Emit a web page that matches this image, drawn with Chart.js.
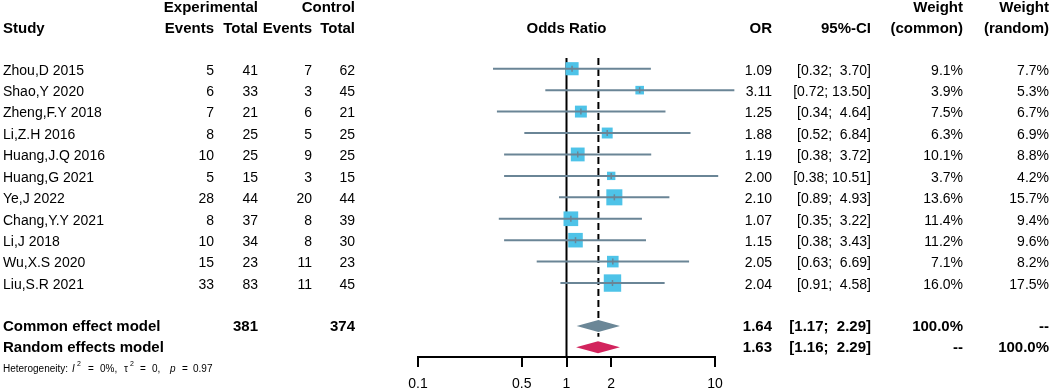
<!DOCTYPE html>
<html><head><meta charset="utf-8">
<script src="https://cdn.jsdelivr.net/npm/chart.js@4.4.1/dist/chart.umd.min.js"></script>
<style>html,body{margin:0;padding:0;background:#fff;}canvas{display:block;}</style>
</head><body>
<canvas id="c" width="1052" height="391"></canvas>
<script>
// ---- data ----
const studies = ["Zhou,D 2015","Shao,Y 2020","Zheng,F.Y 2018","Li,Z.H 2016","Huang,J.Q 2016","Huang,G 2021","Ye,J 2022","Chang,Y.Y 2021","Li,J 2018","Wu,X.S 2020","Liu,S.R 2021"];
const expEvents  = [5, 6, 7, 8, 10, 5, 28, 8, 10, 15, 33];
const expTotal   = [41, 33, 21, 25, 25, 15, 44, 37, 34, 23, 83];
const ctrlEvents = [7, 3, 6, 5, 9, 3, 20, 8, 8, 11, 11];
const ctrlTotal  = [62, 45, 21, 25, 25, 15, 44, 39, 30, 23, 45];
const oddsRatio  = [1.09, 3.11, 1.25, 1.88, 1.19, 2.00, 2.10, 1.07, 1.15, 2.05, 2.04];
const ciLower    = [0.32, 0.72, 0.34, 0.52, 0.38, 0.38, 0.89, 0.35, 0.38, 0.63, 0.91];
const ciUpper    = [3.70, 13.50, 4.64, 6.84, 3.72, 10.51, 4.93, 3.22, 3.43, 6.69, 4.58];
const weightCommon = [9.1, 3.9, 7.5, 6.3, 10.1, 3.7, 13.6, 11.4, 11.2, 7.1, 16.0];
const weightRandom = [7.7, 5.3, 6.7, 6.9, 8.8, 4.2, 15.7, 9.4, 9.6, 8.2, 17.5];
const commonModel = [1.64, 1.17, 2.29];   // OR, lower, upper
const randomModel = [1.63, 1.16, 2.29];
const pooledTotals = [381, 374];
const xTicks = [0.1, 0.5, 1, 2, 10];
const heterogeneity = ["0%", "0", "0.97"]; // I^2, tau^2, p

// ---- styles ----
const FONT = '"Liberation Sans", Arial, Helvetica, sans-serif';
const colSquare = '#4ec3e8';
const colCI = '#6a8596';
const colCommon = '#6b8797';
const colRandom = '#d2245d';
const ROW_COMMON = 12, ROW_RANDOM = 13, ROW_HET = 14;

const fmt2 = v => v.toFixed(2);
const ciText = (lo, hi) => {
  let h = fmt2(hi); if (h.length < 5) h = ' ' + h;
  return '[' + fmt2(lo) + '; ' + h + ']';
};

const datasets = [];
// reference lines
datasets.push({data:[{x:1,y:-0.5},{x:1,y:13.45}], showLine:true, borderColor:'#000', borderWidth:2, pointRadius:0, clip:false, order:10});
datasets.push({data:[{x:commonModel[0],y:-0.5},{x:commonModel[0],y:12.5}], showLine:true, borderColor:'#000', borderWidth:2, borderDash:[7,4], pointRadius:0, clip:false, order:9});
// squares
datasets.push({
  data: oddsRatio.map((v,i)=>({x:v,y:i})),
  pointStyle:'rect',
  pointRadius: weightCommon.map(w => 4.35*Math.sqrt(w)/Math.SQRT2),
  pointBackgroundColor: colSquare, pointBorderWidth:0, backgroundColor: colSquare, borderWidth:0,
  clip:false, order:5
});
// CI lines
studies.forEach((s,i)=>{
  datasets.push({data:[{x:ciLower[i],y:i},{x:ciUpper[i],y:i}], showLine:true, borderColor:colCI, borderWidth:2, pointRadius:0, clip:false, order:2});
});
// estimate tick marks
datasets.push({
  data: oddsRatio.map((v,i)=>({x:v,y:i})),
  pointStyle:'line', rotation:90, pointRadius:3, pointBorderColor:colCI, pointBorderWidth:1.5,
  borderColor:colCI, clip:false, order:1
});

const diamondPlugin = {
  id:'diamonds',
  afterDatasetsDraw(chart){
    const {ctx, scales:{x,y}} = chart;
    const draw = (m, row, col) => {
      const yc = y.getPixelForValue(row), h = 6;
      ctx.save();
      ctx.beginPath();
      ctx.moveTo(x.getPixelForValue(m[1]), yc);
      ctx.lineTo(x.getPixelForValue(m[0]), yc - h);
      ctx.lineTo(x.getPixelForValue(m[2]), yc);
      ctx.lineTo(x.getPixelForValue(m[0]), yc + h);
      ctx.closePath();
      ctx.fillStyle = col; ctx.fill();
      ctx.restore();
    };
    draw(commonModel, ROW_COMMON, colCommon);
    draw(randomModel, ROW_RANDOM, colRandom);
  }
};

const textPlugin = {
  id:'table',
  afterDraw(chart){
    const {ctx, scales:{x,y}} = chart;
    const T = (s, px, py, align, bold) => {
      ctx.font = (bold ? 'bold 15px ' : '14px ') + FONT;
      ctx.textAlign = align; ctx.textBaseline = 'middle'; ctx.fillStyle = '#000';
      ctx.fillText(s, px, py);
    };
    const C = {study:3, ee:214, et:258, ce:312, ct:355, or:772, ci:871, wc:963, wr:1049};
    // headers
    T('Experimental', C.et, 8, 'right', true);
    T('Control', C.ct, 8, 'right', true);
    T('Study', C.study, 29, 'left', true);
    T('Events', C.ee, 29, 'right', true);
    T('Total', C.et, 29, 'right', true);
    T('Events', C.ce, 29, 'right', true);
    T('Total', C.ct, 29, 'right', true);
    T('Odds Ratio', x.getPixelForValue(1), 29, 'center', true);
    T('OR', C.or, 29, 'right', true);
    T('95%-CI', C.ci, 29, 'right', true);
    T('Weight', C.wc, 8, 'right', true);
    T('(common)', C.wc, 29, 'right', true);
    T('Weight', C.wr, 8, 'right', true);
    T('(random)', C.wr, 29, 'right', true);
    // study rows
    studies.forEach((s,i)=>{
      const py = y.getPixelForValue(i) + 2;
      T(s, C.study, py, 'left');
      T(String(expEvents[i]), C.ee, py, 'right');
      T(String(expTotal[i]), C.et, py, 'right');
      T(String(ctrlEvents[i]), C.ce, py, 'right');
      T(String(ctrlTotal[i]), C.ct, py, 'right');
      T(fmt2(oddsRatio[i]), C.or, py, 'right');
      T(ciText(ciLower[i], ciUpper[i]), C.ci, py, 'right');
      T(weightCommon[i].toFixed(1)+'%', C.wc, py, 'right');
      T(weightRandom[i].toFixed(1)+'%', C.wr, py, 'right');
    });
    // summary rows
    let py = y.getPixelForValue(ROW_COMMON) + 1;
    T('Common effect model', C.study, py, 'left', true);
    T(String(pooledTotals[0]), C.et, py, 'right', true);
    T(String(pooledTotals[1]), C.ct, py, 'right', true);
    T(fmt2(commonModel[0]), C.or, py, 'right', true);
    T(ciText(commonModel[1], commonModel[2]), C.ci, py, 'right', true);
    T('100.0%', C.wc, py, 'right', true);
    T('--', C.wr, py, 'right', true);
    py = y.getPixelForValue(ROW_RANDOM) + 1;
    T('Random effects model', C.study, py, 'left', true);
    T(fmt2(randomModel[0]), C.or, py, 'right', true);
    T(ciText(randomModel[1], randomModel[2]), C.ci, py, 'right', true);
    T('--', C.wc, py, 'right', true);
    T('100.0%', C.wr, py, 'right', true);
    // heterogeneity (plotmath-like spacing)
    py = y.getPixelForValue(ROW_HET);
    const seg = (s, px, style, dy, size) => {
      ctx.font = (style||'') + ' ' + (size||10) + 'px ' + FONT;
      ctx.textAlign = 'left'; ctx.textBaseline = 'middle'; ctx.fillStyle = '#000';
      ctx.fillText(s, px, py + (dy||0));
    };
    seg('Heterogeneity:', 3);
    seg('I', 72, 'italic');
    seg('2', 77, '', -5, 7);
    seg('=', 88);
    seg(heterogeneity[0] + ',', 100);
    seg('\u03C4', 124);
    seg('2', 130, '', -5, 7);
    seg('=', 140);
    seg(heterogeneity[1] + ',', 152);
    seg('p', 170, 'italic');
    seg('=', 182);
    seg(heterogeneity[2], 193);
  }
};

new Chart(document.getElementById('c'), {
  type:'scatter',
  data:{datasets},
  options:{
    responsive:false, animation:false, devicePixelRatio:1,
    layout:{padding:{left:418, right:337, top:58, bottom:0}},
    plugins:{legend:{display:false}, tooltip:{enabled:false}},
    scales:{
      x:{
        type:'logarithmic', min:0.1, max:10, position:'bottom',
        afterBuildTicks: sc => { sc.ticks = xTicks.map(v=>({value:v})); },
        afterFit: sc => { sc.height = 34; },
        ticks:{callback:(v)=>String(v), font:{family:FONT, size:14}, color:'#000', padding:9, autoSkip:false, maxRotation:0},
        grid:{display:true, drawOnChartArea:false, drawTicks:true, tickLength:10, color:'#000', lineWidth:2},
        border:{display:true, color:'#000', width:2}
      },
      y:{type:'linear', min:-0.5, max:13.45, reverse:true, display:false}
    }
  },
  plugins:[diamondPlugin, textPlugin]
});
</script>
</body></html>
